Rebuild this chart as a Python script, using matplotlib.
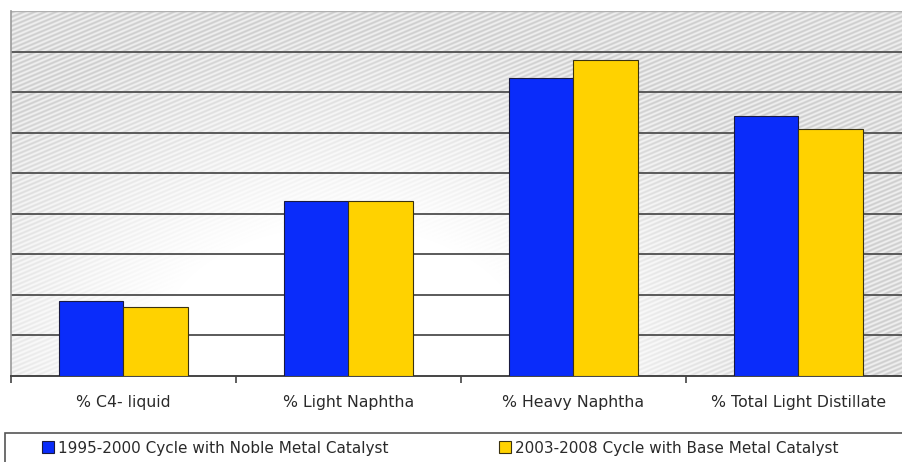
import numpy as np
import matplotlib.pyplot as plt
from matplotlib.patches import Rectangle

categories = ["% C4- liquid", "% Light Naphtha", "% Heavy Naphtha", "% Total Light Distillate"]
series_names = ["1995-2000 Cycle with Noble Metal Catalyst",
                "2003-2008 Cycle with Base Metal Catalyst"]
noble = [9.3, 21.6, 36.7, 32.1]
base = [8.5, 21.6, 39.0, 30.5]
colors = ["#0A2CFA", "#FFD200"]

plt.rcParams["font.family"] = ["DejaVu Sans"]

fig = plt.figure(figsize=(9.03, 4.62), dpi=100)
fig.patch.set_facecolor("white")
ax = fig.add_axes([11 / 903, 1 - 376 / 462, 900 / 903, 365 / 462])

# shaded, diagonally striped plot background
h, w = 365, 900
yy, xx = np.mgrid[0:h, 0:w]
d = np.sqrt(((xx - 330) / 520.0) ** 2 + ((yy - 330) / 330.0) ** 2)
g = np.clip((d - 0.35) / 0.6, 0, 1)
stripe = 0.5 + 0.5 * np.sin(2 * np.pi * (xx * 0.42 + yy) / 4.5)
val = 1.0 - g * 0.06 - g * stripe * 0.13
val = np.clip(val, 0, 1)
img = np.dstack([val, val, val])
ax.imshow(img, extent=[0, 1, 0, 1], transform=ax.transAxes, aspect="auto",
          zorder=0, interpolation="bilinear")

x = np.arange(len(categories))
bw = 0.285
ax.bar(x - bw / 2, noble, bw, color=colors[0], edgecolor="#1a1a40", linewidth=0.8,
       zorder=3, label=series_names[0])
ax.bar(x + bw / 2, base, bw, color=colors[1], edgecolor="#3a3210", linewidth=0.8,
       zorder=3, label=series_names[1])

ax.set_xlim(-0.5, len(categories) - 0.5)
ax.set_ylim(0, 45)
ax.set_yticks(np.arange(5, 45, 5))
ax.yaxis.grid(True, color="#5a5a5a", linewidth=1.4, zorder=1)
ax.set_axisbelow(True)
ax.tick_params(axis="y", left=False, labelleft=False)

ax.set_xticks(x)
ax.set_xticklabels(categories, fontsize=11.3, color="#2a2a2a")
ax.set_xticks(np.arange(-0.5, len(categories), 1), minor=True)
ax.tick_params(axis="x", which="major", length=0, pad=14)
ax.tick_params(axis="x", which="minor", length=5, width=1.2, color="#444444")

for side in ["top", "right"]:
    ax.spines[side].set_visible(False)
ax.spines["left"].set_color("#9a9a9a")
ax.spines["left"].set_linewidth(1.2)
ax.spines["bottom"].set_color("#444444")
ax.spines["bottom"].set_linewidth(1.4)
ax.axhline(45, color="#b0b0b0", linewidth=1.0, zorder=2)

# legend box along the bottom edge
fig.patches.append(Rectangle((5 / 903, -0.05), 1.0, (462 - 433) / 462 + 0.05,
                             transform=fig.transFigure, facecolor="white",
                             edgecolor="#555555", linewidth=1.2))
handles, labels = ax.get_legend_handles_labels()
for hnd, lab, x0 in zip(handles, labels, [42, 499]):
    leg = fig.legend([hnd], [lab], loc="center left",
                     bbox_to_anchor=(x0 / 903, 1 - 448 / 462),
                     frameon=False, fontsize=11, handlelength=0.8, handleheight=0.8,
                     handletextpad=0.25, borderaxespad=0, borderpad=0)
    for t in leg.get_texts():
        t.set_color("#2a2a2a")

fig.savefig("out.png", dpi=100)
